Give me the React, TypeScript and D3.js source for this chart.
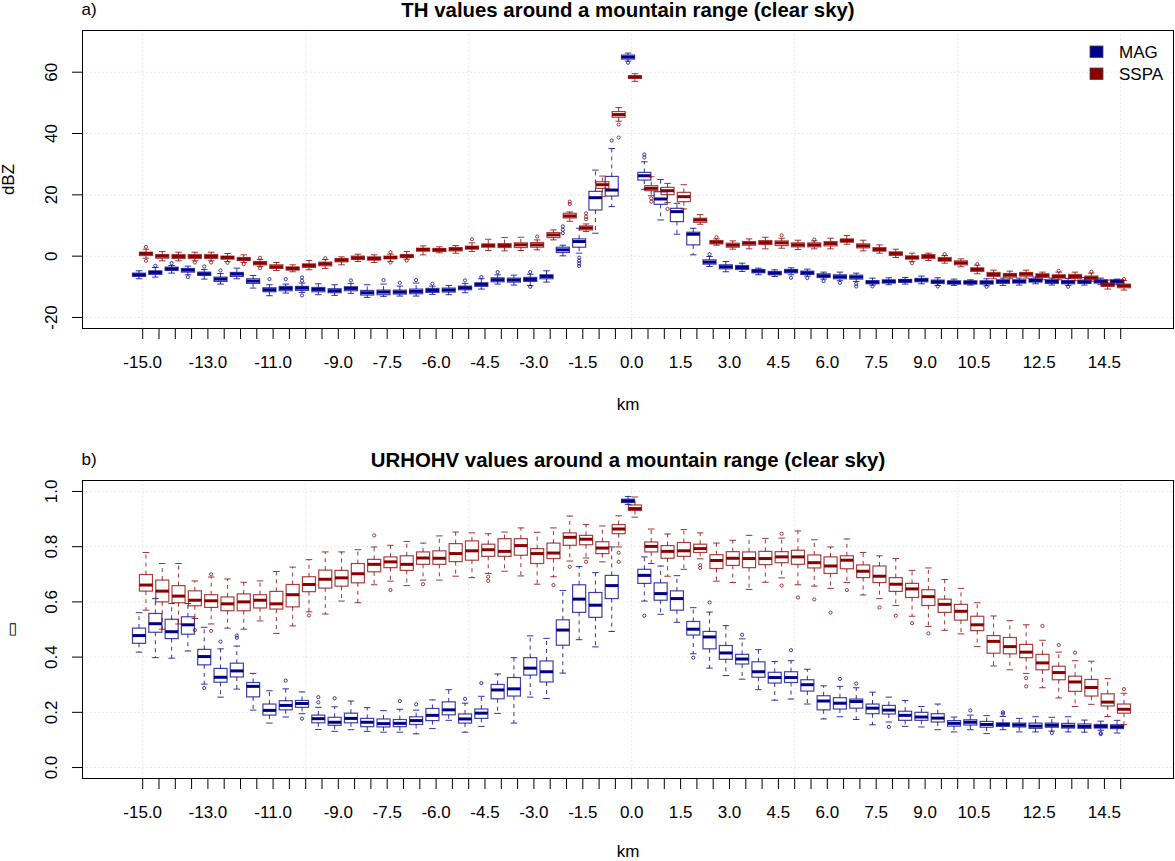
import React, { useEffect, useRef } from 'react';
import * as d3 from 'd3';

// positions along the transect (km), one box pair per position
const KM = [
  -15.0, -14.5, -14.0, -13.5, -13.0, -12.5, -12.0, -11.5, -11.0, -10.5,
  -10.0, -9.5, -9.0, -8.5, -8.0, -7.5, -7.0, -6.5, -6.0, -5.5,
  -5.0, -4.5, -4.0, -3.5, -3.0, -2.5, -2.0, -1.5, -1.0, -0.5,
  0.0, 0.5, 1.0, 1.5, 2.0, 2.5, 3.0, 3.5, 4.0, 4.5,
  5.0, 5.5, 6.0, 6.5, 7.0, 7.5, 8.0, 8.5, 9.0, 9.5,
  10.0, 10.5, 11.0, 11.5, 12.0, 12.5, 13.0, 13.5, 14.0, 14.5, 15.0,
];
// labels R could fit on the axis
const X_LABELS = ['-15.0', '-13.0', '-11.0', '-9.0', '-7.5', '-6.0', '-4.5', '-3.0', '-1.5', '0.0',
  '1.5', '3.0', '4.5', '6.0', '7.5', '9.0', '10.5', '12.5', '14.5'];
const X_GRID = [-15, -10, -5, 0, 5, 10, 15];

const TH_TICKS = [-20, 0, 20, 40, 60];
const RHO_TICKS = [0, 0.2, 0.4, 0.6, 0.8, 1.0];

// ---- TH (dBZ), MAG ----
const TH_MAG_LO = [-7.38, -6.84, -5.54, -6.08, -7.49, -9.12, -7.38, -10.42, -12.91, -12.04, -11.83, -12.58, -12.8, -12.15, -13.45, -13.13, -13.02, -13.02, -12.48, -12.58, -11.93, -10.74, -9.12, -9.44, -9.55, -8.46, 0.1, 0.97, 7.47, 16.15, 63.62, 21.78, 11.81, 7.15, 0.43, -3.37, -5.1, -4.99, -6.08, -6.62, -6.08, -6.51, -7.49, -8.03, -8.25, -9.44, -9.33, -9.12, -9.01, -9.55, -9.55, -9.44, -9.66, -9.55, -9.44, -9.01, -9.44, -9.55, -9.44, -9.33, -9.33];
const TH_MAG_Q1 = [-6.62, -5.97, -4.67, -5.21, -6.3, -8.25, -6.62, -8.9, -11.61, -11.28, -11.18, -11.61, -11.93, -11.28, -12.69, -12.58, -12.37, -12.26, -11.83, -11.72, -10.96, -9.87, -8.36, -8.47, -8.25, -7.38, 1.18, 2.92, 15.06, 19.61, 64.28, 24.82, 16.9, 11.27, 3.68, -2.61, -4.13, -4.35, -5.43, -6.08, -5.43, -5.97, -6.95, -7.38, -7.49, -9.01, -8.79, -8.57, -8.36, -8.9, -9.12, -9.12, -9.12, -8.9, -8.79, -8.47, -8.9, -9.01, -8.9, -8.79, -8.79];
const TH_MAG_MED = [-6.08, -5.32, -4.13, -4.56, -5.76, -7.49, -5.86, -8.14, -10.96, -10.52, -10.42, -10.85, -11.28, -10.52, -11.93, -11.72, -11.72, -11.5, -11.18, -11.07, -10.31, -9.22, -7.71, -7.81, -7.6, -6.62, 2.05, 4.76, 19.07, 21.56, 64.93, 26.23, 18.64, 14.52, 7.15, -1.96, -3.48, -3.7, -4.89, -5.54, -4.89, -5.43, -6.41, -6.73, -6.84, -8.47, -8.25, -8.03, -7.81, -8.36, -8.57, -8.57, -8.57, -8.25, -8.25, -7.92, -8.25, -8.47, -8.36, -8.25, -8.25];
const TH_MAG_Q3 = [-5.54, -4.78, -3.59, -4.02, -5.21, -6.84, -5.32, -7.38, -10.31, -9.87, -9.87, -10.2, -10.63, -9.98, -11.18, -11.07, -11.07, -10.74, -10.52, -10.42, -9.77, -8.68, -7.06, -7.16, -6.94, -6.08, 2.92, 5.63, 21.13, 26.01, 65.58, 27.31, 21.02, 15.6, 7.8, -1.2, -2.82, -3.05, -4.35, -4.99, -4.35, -4.89, -5.76, -6.08, -6.19, -8.03, -7.71, -7.6, -7.27, -7.81, -8.03, -8.03, -8.03, -7.71, -7.71, -7.38, -7.71, -7.92, -7.81, -7.71, -7.71];
const TH_MAG_HI = [-4.78, -3.7, -3.05, -3.26, -4.35, -5.65, -3.91, -6.3, -9.33, -9.12, -8.79, -9.01, -9.33, -8.9, -9.33, -9.12, -9.77, -8.79, -9.77, -9.55, -8.9, -7.38, -6.08, -6.19, -5.9, -4.78, 3.57, 9.1, 28.07, 35.1, 66.23, 30.78, 25.03, 17.23, 9.1, -0.11, -1.74, -2.29, -3.91, -4.45, -3.8, -4.24, -5.21, -5.21, -5.54, -7.16, -7.06, -6.95, -6.51, -7.06, -7.49, -7.71, -7.38, -7.16, -7.16, -6.84, -7.16, -7.27, -6.95, -7.16, -7.49];
const TH_MAG_OUT: [number, number][] = [
  [1, -3.15], [2, -2.29], [3, -6.84], [4, -3.37], [5, -4.67], [8, -7.49], [9, -7.49], [10, -6.95], [10, -8.03],
  [10, -12.8], [13, -7.92], [15, -7.81], [16, -8.68], [17, -7.81], [18, -9.01], [20, -7.92], [21, -6.84],
  [22, -5.21], [24, -5.2], [24, -10.0], [26, 7.5], [26, 8.6], [26, 9.7], [27, -0.5], [27, -1.5], [27, -2.4],
  [27, -3.2], [29, 37.72], [30, 63.08], [31, 33.16], [31, 32.19], [35, 0.64], [40, -7.06], [41, -7.16],
  [42, -8.14], [43, -8.68], [44, -9.01], [44, -9.87], [45, -9.87], [49, -9.87], [52, -9.98], [57, -9.98],
];

// ---- TH (dBZ), SSPA ----
const TH_SSPA_LO = [-0.66, -1.53, -1.53, -1.53, -1.53, -1.74, -2.07, -3.37, -4.67, -5.1, -4.45, -4.02, -2.83, -1.74, -2.07, -1.74, -0.99, 0.42, 1.07, 0.97, 1.51, 1.83, 1.72, 1.84, 2.05, 5.3, 11.37, 8.01, 19.4, 44.0, 57.01, 19.72, 17.45, 15.39, 10.4, 3.57, 2.27, 2.38, 2.38, 2.59, 2.16, 2.38, 2.38, 3.89, 1.72, 0.97, -0.44, -1.74, -1.42, -2.29, -3.48, -5.76, -7.38, -7.38, -7.16, -7.71, -7.71, -8.03, -8.25, -10.74, -11.07];
const TH_SSPA_Q1 = [0.21, -0.66, -0.77, -0.77, -0.77, -0.99, -1.42, -2.83, -4.02, -4.56, -3.7, -3.15, -1.85, -1.09, -1.31, -0.88, -0.44, 1.62, 1.51, 1.72, 2.27, 2.92, 2.81, 2.81, 2.92, 6.06, 12.46, 8.56, 22.11, 45.3, 57.99, 21.35, 20.05, 17.77, 11.05, 4.0, 2.92, 3.57, 3.78, 3.46, 3.03, 3.03, 3.35, 4.54, 2.7, 1.62, 0.21, -0.99, -0.77, -1.64, -2.83, -4.99, -6.62, -6.84, -6.51, -6.95, -7.16, -7.27, -7.71, -9.87, -10.31];
const TH_SSPA_MED = [0.86, 0, -0.12, -0.12, -0.12, -0.44, -0.99, -2.29, -3.48, -4.02, -3.05, -2.5, -1.31, -0.55, -0.77, -0.44, 0, 2.16, 2.05, 2.27, 2.81, 3.46, 3.46, 3.68, 3.68, 6.93, 13.11, 9.21, 23.3, 46.17, 58.42, 22.11, 21.35, 19.4, 11.81, 4.55, 3.57, 4.22, 4.43, 4.33, 3.68, 3.68, 4.11, 5.09, 3.35, 2.16, 0.86, -0.44, -0.12, -1.09, -2.18, -4.35, -5.97, -6.19, -5.86, -6.3, -6.62, -6.62, -7.06, -9.33, -9.66];
const TH_SSPA_Q3 = [1.29, 0.53, 0.53, 0.53, 0.53, 0, -0.44, -1.74, -2.83, -3.48, -2.5, -1.96, -0.77, 0, -0.23, 0, 0.53, 2.59, 2.48, 2.81, 3.24, 4.0, 4.11, 4.33, 4.44, 7.69, 13.98, 9.86, 24.28, 47.15, 58.86, 22.98, 22.43, 20.81, 12.35, 5.09, 4.22, 4.76, 5.09, 4.98, 4.33, 4.33, 4.76, 5.63, 4.0, 2.81, 1.4, 0.1, 0.53, -0.44, -1.53, -3.8, -5.32, -5.65, -5.32, -5.76, -6.08, -5.97, -6.51, -8.79, -9.12];
const TH_SSPA_HI = [2.27, 1.51, 1.29, 1.29, 1.29, 0.86, 0.42, -1.09, -2.07, -2.83, -1.42, -1.09, -0.23, 0.64, 0.42, 0.64, 1.51, 3.35, 3.03, 3.46, 4.33, 5.52, 6.06, 6.17, 5.3, 8.56, 14.41, 10.51, 26.12, 48.45, 59.51, 25.9, 23.73, 23.3, 13.54, 5.63, 4.98, 5.63, 6.17, 5.84, 5.19, 4.98, 5.84, 6.71, 5.19, 3.68, 2.27, 0.97, 0.97, 0.21, -0.88, -2.94, -4.56, -4.89, -4.56, -5.21, -5.21, -5.21, -5.54, -7.81, -7.92];
const TH_SSPA_OUT: [number, number][] = [
  [0, 3.03], [0, -1.53], [3, -2.07], [4, -2.07], [5, -2.18], [6, -2.61], [7, -0.55], [7, -3.91], [11, -0.66],
  [15, 1.29], [15, -2.07], [16, -1.42], [20, 5.52], [24, 6.39], [26, 17.77], [26, 17.01], [27, 13.98],
  [27, 12.9], [27, 12.03], [29, 42.92], [29, 38.69], [31, 18.85], [31, 17.77], [32, 15.39], [35, 6.17],
  [39, 6.82], [41, 5.41], [47, -2.29], [49, 0.64], [51, -2.61], [56, -4.78], [58, -5.1], [60, -7.49],
];

// ---- URHOHV, MAG ----
const RHO_MAG_LO = [0.418, 0.398, 0.396, 0.422, 0.302, 0.255, 0.284, 0.208, 0.161, 0.183, 0.195, 0.138, 0.131, 0.137, 0.131, 0.128, 0.128, 0.122, 0.141, 0.171, 0.128, 0.149, 0.196, 0.161, 0.255, 0.250, 0.342, 0.463, 0.437, 0.493, 0.953, 0.603, 0.555, 0.526, 0.412, 0.360, 0.333, 0.320, 0.282, 0.244, 0.248, 0.230, 0.176, 0.184, 0.174, 0.155, 0.165, 0.149, 0.147, 0.137, 0.129, 0.137, 0.123, 0.137, 0.129, 0.129, 0.132, 0.129, 0.128, 0.135, 0.125];
const RHO_MAG_Q1 = [0.450, 0.490, 0.467, 0.483, 0.372, 0.309, 0.328, 0.256, 0.190, 0.209, 0.218, 0.162, 0.153, 0.162, 0.148, 0.147, 0.148, 0.156, 0.170, 0.191, 0.161, 0.178, 0.249, 0.259, 0.335, 0.310, 0.443, 0.562, 0.544, 0.612, 0.960, 0.667, 0.606, 0.570, 0.480, 0.430, 0.392, 0.375, 0.327, 0.306, 0.308, 0.277, 0.209, 0.212, 0.215, 0.195, 0.194, 0.171, 0.171, 0.165, 0.150, 0.154, 0.146, 0.149, 0.147, 0.142, 0.146, 0.143, 0.142, 0.143, 0.141];
const RHO_MAG_MED = [0.478, 0.521, 0.492, 0.517, 0.402, 0.327, 0.350, 0.294, 0.207, 0.225, 0.232, 0.177, 0.164, 0.178, 0.164, 0.159, 0.160, 0.170, 0.189, 0.209, 0.176, 0.197, 0.281, 0.285, 0.360, 0.347, 0.498, 0.610, 0.588, 0.659, 0.966, 0.696, 0.630, 0.612, 0.501, 0.473, 0.415, 0.393, 0.347, 0.326, 0.326, 0.300, 0.241, 0.233, 0.239, 0.215, 0.208, 0.189, 0.183, 0.179, 0.160, 0.164, 0.156, 0.156, 0.154, 0.150, 0.153, 0.150, 0.149, 0.149, 0.148];
const RHO_MAG_Q3 = [0.505, 0.558, 0.537, 0.546, 0.428, 0.359, 0.378, 0.308, 0.230, 0.242, 0.243, 0.190, 0.182, 0.197, 0.178, 0.176, 0.174, 0.184, 0.214, 0.238, 0.194, 0.212, 0.301, 0.326, 0.398, 0.386, 0.535, 0.662, 0.634, 0.696, 0.972, 0.718, 0.669, 0.640, 0.529, 0.493, 0.442, 0.410, 0.383, 0.345, 0.347, 0.318, 0.260, 0.253, 0.248, 0.230, 0.225, 0.204, 0.200, 0.195, 0.170, 0.173, 0.167, 0.162, 0.161, 0.161, 0.161, 0.160, 0.158, 0.156, 0.155];
const RHO_MAG_HI = [0.561, 0.612, 0.594, 0.594, 0.508, 0.430, 0.440, 0.341, 0.278, 0.285, 0.274, 0.218, 0.220, 0.241, 0.217, 0.206, 0.211, 0.208, 0.245, 0.282, 0.233, 0.258, 0.339, 0.398, 0.477, 0.468, 0.641, 0.728, 0.706, 0.799, 0.982, 0.763, 0.730, 0.695, 0.579, 0.563, 0.514, 0.466, 0.427, 0.384, 0.387, 0.356, 0.296, 0.294, 0.289, 0.273, 0.255, 0.243, 0.221, 0.230, 0.183, 0.190, 0.188, 0.185, 0.178, 0.184, 0.182, 0.184, 0.172, 0.168, 0.171];
const RHO_MAG_OUT: [number, number][] = [
  [4, 0.288], [5, 0.456], [6, 0.478], [6, 0.470], [9, 0.315], [10, 0.177], [11, 0.255], [11, 0.236],
  [12, 0.251], [16, 0.241], [17, 0.229], [20, 0.249], [21, 0.306], [31, 0.550], [34, 0.398], [35, 0.598],
  [37, 0.481], [40, 0.425], [43, 0.321], [44, 0.304], [46, 0.147], [51, 0.207], [53, 0.200], [53, 0.195],
  [56, 0.125], [59, 0.125], [59, 0.121],
];

// ---- URHOHV, SSPA ----
const RHO_SSPA_LO = [0.570, 0.501, 0.520, 0.540, 0.520, 0.505, 0.501, 0.531, 0.486, 0.513, 0.564, 0.556, 0.603, 0.597, 0.662, 0.675, 0.659, 0.679, 0.679, 0.693, 0.688, 0.703, 0.711, 0.694, 0.664, 0.691, 0.748, 0.759, 0.745, 0.799, 0.907, 0.739, 0.693, 0.718, 0.756, 0.675, 0.670, 0.645, 0.671, 0.687, 0.662, 0.657, 0.649, 0.670, 0.625, 0.612, 0.587, 0.548, 0.511, 0.497, 0.484, 0.438, 0.368, 0.354, 0.341, 0.289, 0.252, 0.221, 0.229, 0.185, 0.155];
const RHO_SSPA_Q1 = [0.639, 0.600, 0.597, 0.586, 0.580, 0.568, 0.568, 0.578, 0.574, 0.582, 0.637, 0.650, 0.657, 0.669, 0.709, 0.724, 0.714, 0.736, 0.736, 0.746, 0.751, 0.765, 0.765, 0.769, 0.739, 0.757, 0.805, 0.807, 0.775, 0.847, 0.931, 0.781, 0.758, 0.765, 0.779, 0.721, 0.732, 0.724, 0.735, 0.742, 0.736, 0.723, 0.703, 0.720, 0.688, 0.670, 0.638, 0.616, 0.587, 0.562, 0.534, 0.496, 0.414, 0.412, 0.398, 0.354, 0.318, 0.276, 0.259, 0.223, 0.197];
const RHO_SSPA_MED = [0.661, 0.639, 0.621, 0.606, 0.604, 0.593, 0.600, 0.606, 0.593, 0.626, 0.663, 0.682, 0.687, 0.702, 0.736, 0.745, 0.736, 0.759, 0.758, 0.775, 0.785, 0.789, 0.783, 0.804, 0.775, 0.777, 0.834, 0.827, 0.795, 0.864, 0.938, 0.801, 0.783, 0.785, 0.793, 0.750, 0.758, 0.757, 0.757, 0.763, 0.763, 0.742, 0.730, 0.751, 0.711, 0.693, 0.664, 0.647, 0.619, 0.591, 0.566, 0.517, 0.457, 0.438, 0.418, 0.379, 0.344, 0.310, 0.290, 0.237, 0.211];
const RHO_SSPA_Q3 = [0.699, 0.679, 0.659, 0.640, 0.626, 0.618, 0.629, 0.626, 0.638, 0.663, 0.691, 0.715, 0.714, 0.739, 0.754, 0.763, 0.767, 0.781, 0.785, 0.811, 0.821, 0.809, 0.829, 0.829, 0.793, 0.813, 0.850, 0.841, 0.818, 0.880, 0.951, 0.817, 0.804, 0.815, 0.809, 0.771, 0.782, 0.781, 0.783, 0.782, 0.787, 0.770, 0.763, 0.767, 0.734, 0.730, 0.688, 0.667, 0.644, 0.610, 0.591, 0.548, 0.478, 0.471, 0.446, 0.410, 0.367, 0.331, 0.319, 0.267, 0.230];
const RHO_SSPA_HI = [0.779, 0.739, 0.739, 0.676, 0.690, 0.683, 0.671, 0.676, 0.710, 0.726, 0.753, 0.781, 0.781, 0.789, 0.799, 0.805, 0.819, 0.813, 0.839, 0.853, 0.850, 0.847, 0.853, 0.868, 0.852, 0.868, 0.911, 0.880, 0.875, 0.912, 0.980, 0.864, 0.846, 0.862, 0.850, 0.813, 0.823, 0.841, 0.830, 0.831, 0.857, 0.825, 0.799, 0.828, 0.779, 0.767, 0.757, 0.714, 0.723, 0.681, 0.649, 0.597, 0.549, 0.532, 0.517, 0.461, 0.418, 0.387, 0.385, 0.322, 0.269];
const RHO_SSPA_OUT: [number, number][] = [
  [3, 0.498], [4, 0.700], [4, 0.495], [10, 0.551], [14, 0.841], [15, 0.643], [17, 0.664], [21, 0.691],
  [21, 0.676], [25, 0.661], [26, 0.727], [27, 0.745], [29, 0.778], [29, 0.745], [34, 0.733], [34, 0.723],
  [39, 0.847], [39, 0.659], [40, 0.616], [41, 0.609], [42, 0.561], [43, 0.643], [45, 0.580], [46, 0.550],
  [47, 0.523], [48, 0.486], [54, 0.324], [54, 0.294], [55, 0.513], [56, 0.444], [57, 0.416], [60, 0.284],
];

const FONT = '"Liberation Sans", Arial, Helvetica, sans-serif';
const MAG_COLOR = '#00008B';
const SSPA_COLOR = '#8B0000';

interface BoxSeries {
  color: string;
  shift: number; // offset from the category position, in index units
  lo: number[];
  q1: number[];
  med: number[];
  q3: number[];
  hi: number[];
  out: [number, number][];
}

interface PanelProps {
  offsetY: number;
  tag: string;
  title: string;
  yLabel: string;
  yLabelSize: number;
  yLabelX: number;
  kmBaseline: number;
  yDomain: [number, number];
  yTicks: number[];
  yFormat: (v: number) => string;
  series: BoxSeries[];
  legend?: boolean;
}

const PLOT_LEFT = 82.5;
const PLOT_RIGHT = 1173.5;
const PLOT_TOP = 30.5;
const PLOT_BOTTOM = 328.5;

const Panel: React.FC<PanelProps> = ({
  offsetY, tag, title, yLabel, yLabelSize, yLabelX, kmBaseline, yDomain, yTicks, yFormat, series, legend,
}) => {
  const gRef = useRef<SVGGElement>(null);

  useEffect(() => {
    if (!gRef.current) return;
    const g = d3.select(gRef.current);
    g.selectAll('*').remove();

    const top = PLOT_TOP;
    const bottom = PLOT_BOTTOM;

    // index based x scale (R boxplot positions), km mapped to index
    const x = d3.scaleLinear().domain([-3.693, 63.239]).range([PLOT_LEFT, PLOT_RIGHT]);
    const kmToIdx = d3.scaleLinear().domain([KM[0], KM[KM.length - 1]]).range([0, KM.length - 1]);
    const y = d3.scaleLinear().domain(yDomain).range([bottom, top]);

    // grid
    const grid = g.append('g')
      .attr('stroke', '#d3d3d3')
      .attr('stroke-width', 1)
      .attr('stroke-dasharray', '1 3');
    yTicks.forEach(t => {
      grid.append('line')
        .attr('x1', PLOT_LEFT).attr('x2', PLOT_RIGHT)
        .attr('y1', y(t)).attr('y2', y(t));
    });
    X_GRID.forEach(k => {
      grid.append('line')
        .attr('x1', x(kmToIdx(k))).attr('x2', x(kmToIdx(k)))
        .attr('y1', top).attr('y2', bottom);
    });

    // boxes
    const half = 0.4;
    const staple = 0.2;
    series.forEach(s => {
      const sg = g.append('g').attr('stroke', s.color).attr('fill', 'none');
      KM.forEach((_, i) => {
        const cx = x(i + s.shift);
        const xl = x(i + s.shift - half);
        const xr = x(i + s.shift + half);
        const sl = x(i + s.shift - staple);
        const sr = x(i + s.shift + staple);

        // whiskers
        sg.append('line')
          .attr('x1', cx).attr('x2', cx)
          .attr('y1', y(s.q3[i])).attr('y2', y(s.hi[i]))
          .attr('stroke-dasharray', '4 4')
          .attr('stroke-opacity', 0.8);
        sg.append('line')
          .attr('x1', cx).attr('x2', cx)
          .attr('y1', y(s.q1[i])).attr('y2', y(s.lo[i]))
          .attr('stroke-dasharray', '4 4')
          .attr('stroke-opacity', 0.8);
        // staples
        [s.hi[i], s.lo[i]].forEach(v => {
          sg.append('line')
            .attr('x1', sl).attr('x2', sr)
            .attr('y1', y(v)).attr('y2', y(v))
            .attr('stroke-opacity', 0.8);
        });
        // box
        sg.append('rect')
          .attr('x', xl)
          .attr('y', y(s.q3[i]))
          .attr('width', xr - xl)
          .attr('height', Math.max(0.5, y(s.q1[i]) - y(s.q3[i])))
          .attr('stroke-opacity', 0.75)
          .attr('stroke-width', 1.2);
        // median
        sg.append('line')
          .attr('x1', xl).attr('x2', xr)
          .attr('y1', y(s.med[i])).attr('y2', y(s.med[i]))
          .attr('stroke-width', 3);
      });
      // outliers
      sg.selectAll('circle.out')
        .data(s.out)
        .enter()
        .append('circle')
        .attr('class', 'out')
        .attr('cx', d => x(d[0] + s.shift))
        .attr('cy', d => y(d[1]))
        .attr('r', 1.6)
        .attr('stroke-width', 0.9)
        .attr('stroke-opacity', 0.85);
    });

    // frame
    g.append('rect')
      .attr('x', PLOT_LEFT).attr('y', top)
      .attr('width', PLOT_RIGHT - PLOT_LEFT).attr('height', bottom - top)
      .attr('fill', 'none').attr('stroke', '#000').attr('stroke-width', 1);

    // y axis
    const yAxis = g.append('g');
    yTicks.forEach(t => {
      yAxis.append('line')
        .attr('x1', PLOT_LEFT - 10.5).attr('x2', PLOT_LEFT)
        .attr('y1', y(t)).attr('y2', y(t))
        .attr('stroke', '#000');
      yAxis.append('text')
        .attr('transform', `translate(56.5,${y(t)}) rotate(-90)`)
        .attr('text-anchor', 'middle')
        .attr('font-family', FONT)
        .attr('font-size', 17)
        .attr('fill', '#000')
        .text(yFormat(t));
    });

    // x axis
    const xAxis = g.append('g');
    xAxis.append('line')
      .attr('x1', x(0)).attr('x2', x(KM.length - 1))
      .attr('y1', bottom).attr('y2', bottom)
      .attr('stroke', '#000');
    KM.forEach((k, i) => {
      xAxis.append('line')
        .attr('x1', x(i)).attr('x2', x(i))
        .attr('y1', bottom).attr('y2', bottom + 10.5)
        .attr('stroke', '#000');
      const label = k.toFixed(1);
      if (X_LABELS.includes(label)) {
        xAxis.append('text')
          .attr('x', x(i))
          .attr('y', bottom + 39.5)
          .attr('text-anchor', 'middle')
          .attr('font-family', FONT)
          .attr('font-size', 17)
          .attr('fill', '#000')
          .text(label);
      }
    });

    // axis titles
    g.append('text')
      .attr('x', (PLOT_LEFT + PLOT_RIGHT) / 2)
      .attr('y', kmBaseline)
      .attr('text-anchor', 'middle')
      .attr('font-family', FONT)
      .attr('font-size', 17)
      .text('km');
    g.append('text')
      .attr('transform', `translate(${yLabelX},${(top + bottom) / 2}) rotate(-90)`)
      .attr('text-anchor', 'middle')
      .attr('font-family', FONT)
      .attr('font-size', yLabelSize)
      .text(yLabel);

    // title and panel tag
    g.append('text')
      .attr('x', (PLOT_LEFT + PLOT_RIGHT) / 2)
      .attr('y', 16.5)
      .attr('text-anchor', 'middle')
      .attr('font-family', FONT)
      .attr('font-size', 20.4)
      .attr('font-weight', 'bold')
      .text(title);
    g.append('text')
      .attr('x', PLOT_LEFT - 1)
      .attr('y', 15)
      .attr('font-family', FONT)
      .attr('font-size', 17)
      .text(tag);

    // legend
    if (legend) {
      const items = [{ name: 'MAG', color: MAG_COLOR }, { name: 'SSPA', color: SSPA_COLOR }];
      items.forEach((it, k) => {
        g.append('rect')
          .attr('x', 1090).attr('y', 46 + k * 22)
          .attr('width', 13).attr('height', 11.5)
          .attr('fill', it.color)
          .attr('stroke', '#444')
          .attr('stroke-width', 0.8);
        g.append('text')
          .attr('x', 1119).attr('y', 58 + k * 22)
          .attr('font-family', FONT)
          .attr('font-size', 17)
          .text(it.name);
      });
    }
  }, [offsetY, tag, title, yLabel, yLabelSize, yLabelX, kmBaseline, yDomain, yTicks, yFormat, series, legend]);

  return <g ref={gRef} transform={`translate(0,${offsetY})`} />;
};

const thSeries: BoxSeries[] = [
  { color: MAG_COLOR, shift: -0.225, lo: TH_MAG_LO, q1: TH_MAG_Q1, med: TH_MAG_MED, q3: TH_MAG_Q3, hi: TH_MAG_HI, out: TH_MAG_OUT },
  { color: SSPA_COLOR, shift: 0.2, lo: TH_SSPA_LO, q1: TH_SSPA_Q1, med: TH_SSPA_MED, q3: TH_SSPA_Q3, hi: TH_SSPA_HI, out: TH_SSPA_OUT },
];
const rhoSeries: BoxSeries[] = [
  { color: MAG_COLOR, shift: -0.225, lo: RHO_MAG_LO, q1: RHO_MAG_Q1, med: RHO_MAG_MED, q3: RHO_MAG_Q3, hi: RHO_MAG_HI, out: RHO_MAG_OUT },
  { color: SSPA_COLOR, shift: 0.2, lo: RHO_SSPA_LO, q1: RHO_SSPA_Q1, med: RHO_SSPA_MED, q3: RHO_SSPA_Q3, hi: RHO_SSPA_HI, out: RHO_SSPA_OUT },
];

// R prints a plain hyphen for negative tick labels
const fmtInt = (v: number) => String(v);
const fmtOne = (v: number) => v.toFixed(1);
const TH_DOMAIN: [number, number] = [-23.6, 73.6];
const RHO_DOMAIN: [number, number] = [-0.0397, 1.0397];

export default function App() {
  return (
    <svg
      width={1175}
      height={861}
      viewBox="0 0 1175 861"
      style={{ position: 'absolute', left: 0, top: 0, background: '#fff' }}
    >
      <rect x={0} y={0} width={1175} height={861} fill="#fff" />
      <Panel
        offsetY={0}
        tag="a)"
        title="TH values around a mountain range (clear sky)"
        yLabel="dBZ"
        yLabelSize={17}
        yLabelX={13.5}
        kmBaseline={410}
        yDomain={TH_DOMAIN}
        yTicks={TH_TICKS}
        yFormat={fmtInt}
        series={thSeries}
        legend
      />
      <Panel
        offsetY={450}
        tag="b)"
        title="URHOHV values around a mountain range (clear sky)"
        yLabel="▭"
        yLabelSize={16}
        yLabelX={17}
        kmBaseline={407}
        yDomain={RHO_DOMAIN}
        yTicks={RHO_TICKS}
        yFormat={fmtOne}
        series={rhoSeries}
      />
    </svg>
  );
}
